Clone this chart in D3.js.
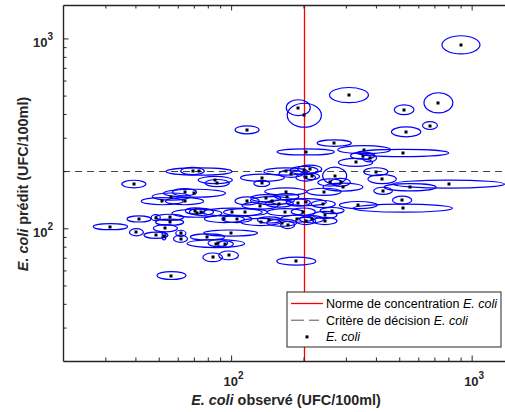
<!DOCTYPE html>
<html>
<head>
<meta charset="utf-8">
<script src="https://cdn.jsdelivr.net/npm/d3@7"></script>
<style>
  body { margin: 0; background: #fff; }
  svg { display: block; font-family: "Liberation Sans", Arial, sans-serif; }
</style>
</head>
<body>
<svg id="chart"></svg>
<script>
// E. coli observé vs prédit (UFC/100ml), ellipses = incertitude (demi-axes en log10)
var observed = [31.5, 39.4, 41.4, 40.4, 48.6, 48.7, 52.6, 53.3, 55.5, 55.5,
  61.8, 61.6, 56.5, 51.7, 56.4, 64.0, 70.4, 64.0, 69.1, 73.6,
  85.9, 87.5, 116.5, 70.9, 72.1, 75.3, 93.8, 101.2, 114.7, 79.7,
  99.5, 86.4, 88.1, 94.7, 83.8, 97.6, 116.5, 105.6, 132.8, 144.2,
  162.3, 171.9, 187.8, 204.2, 216.1, 134.9, 134.1, 168.6, 177.4, 200.9,
  204.2, 212.2, 216.1, 204.2, 168.6, 170.7, 139.3, 148.4, 158.6, 190.2,
  205.3, 131.9, 168, 199.5, 186.6, 190.2, 201.5, 309, 903, 524,
  727.5, 671, 534, 268.3, 357.5, 517.2, 352, 376.3, 329, 399.7,
  269.4, 424.5, 802.8, 554.6, 428.5, 514, 285, 257.5, 291.7, 243.2,
  338, 517, 241.5, 263, 245.5, 245.5];
var predicted = [102, 171, 112, 95.3, 113.8, 91.9, 91.2, 100, 107.7, 114.3,
  94.1, 88.1, 56.4, 139, 146.9, 155, 153, 139, 200.3, 199.3,
  179.5, 173, 330, 123.5, 120, 122, 112, 121.6, 121.6, 90,
  94.4, 83.1, 83.6, 82.6, 70.3, 72, 139.4, 112, 108, 110.6,
  107, 104.1, 112.4, 109.3, 111.6, 184.6, 172.2, 199.3, 193.8, 201.7,
  185.2, 205.2, 187.5, 252.5, 156.2, 146.9, 144.1, 140, 134.9, 136.6,
  137.3, 131.7, 121.6, 122.4, 67.1, 431.5, 394, 503, 925, 421,
  458, 347.8, 322, 281, 259.5, 249.4, 241.3, 234.6, 222.3, 198.6,
  189.1, 181.6, 171, 164.4, 157.5, 140.6, 174.7, 174.3, 164.8, 155.6,
  132.5, 127.6, 134.1, 124, 117.5, 109.3];
var errObs = [.071, .050, .050, .029, .019, .050, .008, .050, .058, .058,
  .021, .029, .060, .087, .079, .050, .129, .079, .049, .137,
  .071, .050, .050, .041, .104, .050, .083, .124, .091, .071,
  .112, .120, .041, .033, .041, .041, .050, .062, .083, .050,
  .062, .029, .066, .041, .050, .091, .033, .091, .050, .058,
  .041, .050, .033, .119, .087, .050, .062, .091, .058, .050,
  .083, .075, .075, .050, .081, .050, .071, .081, .079, .041,
  .060, .031, .061, .071, .110, .191, .050, .029, .071, .050,
  .050, .059, .232, .108, .039, .040, .041, .050, .083, .071,
  .079, .207, .050, .050, .050, .050];
var errPred = [.016, .020, .016, .019, .016, .016, .021, .019, .016, .016,
  .016, .019, .021, .019, .019, .019, .021, .019, .019, .019,
  .019, .019, .021, .016, .021, .019, .019, .021, .019, .016,
  .016, .021, .019, .016, .023, .023, .021, .019, .019, .016,
  .019, .019, .019, .019, .019, .019, .016, .019, .019, .021,
  .019, .021, .016, .016, .019, .016, .019, .021, .019, .019,
  .019, .019, .019, .019, .021, .042, .063, .040, .048, .026,
  .053, .021, .026, .017, .021, .019, .019, .021, .021, .021,
  .045, .024, .021, .019, .019, .021, .021, .019, .021, .019,
  .019, .021, .019, .016, .019, .019];

var normeConcentration = 200;
var critereDecision = 200;
var majorTicks = [100, 1000];
var xTicks = [30, 40, 50, 60, 70, 80, 90, 100, 200, 300, 400, 500, 600, 700, 800, 900, 1000];
var yTicks = [30, 40, 50, 60, 70, 80, 90, 100, 200, 300, 400, 500, 600, 700, 800, 900, 1000];
var legendLabels = ["Norme de concentration ", "Critère de décision ", ""];

var width = 505, height = 412;
var margin = ({top: 5, right: -9, bottom: 51, left: 63});

var svg = d3.select("#chart")
  .attr("width", width)
  .attr("height", height);

var x = d3.scaleLog()
  .domain([20, 1500])
  .range([margin.left, width - margin.right]);

var y = d3.scaleLog()
  .domain([20, 1500])
  .range([height - margin.bottom, margin.top]);

var data = observed.map(function(d, i) {
  return {obs: d, pred: predicted[i], ex: errObs[i], ey: errPred[i]};
});

// reference lines
var xNorm = Math.round(x(normeConcentration)) + 0.5;
svg.append("line")
  .attr("x1", xNorm).attr("x2", xNorm)
  .attr("y1", y(1500)).attr("y2", y(20))
  .attr("stroke", "#ff0000").attr("stroke-width", 1.3);

var yCrit = Math.round(y(critereDecision)) + 0.5;
svg.append("line")
  .attr("x1", x(20)).attr("x2", x(1500))
  .attr("y1", yCrit).attr("y2", yCrit)
  .attr("stroke", "#444").attr("stroke-width", 1)
  .attr("stroke-dasharray", "7,5");

// ellipses
svg.append("g")
  .selectAll("ellipse")
  .data(data)
  .join("ellipse")
    .attr("cx", d => x(d.obs))
    .attr("cy", d => y(d.pred))
    .attr("rx", d => x(d.obs * Math.pow(10, d.ex)) - x(d.obs))
    .attr("ry", d => y(d.pred) - y(d.pred * Math.pow(10, d.ey)))
    .attr("fill", "none")
    .attr("stroke", "#0000ff")
    .attr("stroke-width", 1.2);

// points
svg.append("g")
  .selectAll("rect")
  .data(data)
  .join("rect")
    .attr("x", d => Math.round(x(d.obs)) - 1.5)
    .attr("y", d => Math.round(y(d.pred)) - 1.5)
    .attr("width", 3)
    .attr("height", 3)
    .attr("fill", "#000");

// axes
function supLabel(sel, tx, ty) {
  sel.selectAll(".tick text").each(function(d) {
    var t = d3.select(this);
    if (majorTicks.indexOf(d) < 0) { t.remove(); return; }
    t.text("10")
      .attr("x", tx).attr("y", ty).attr("dy", null)
      .attr("fill", "#262626")
      .style("font-size", "13px")
      .style("font-weight", "bold");
    t.append("tspan")
      .attr("dy", -7.5)
      .style("font-size", "10px")
      .text(Math.round(Math.log10(d)));
  });
}

function styleAxis(g, major, minor) {
  g.select(".domain").attr("stroke", "#262626").attr("stroke-width", 1.4);
  g.selectAll(".tick line").attr("stroke", "#262626");
  g.selectAll(".tick line").each(function(d) {
    var l = d3.select(this);
    var len = majorTicks.indexOf(d) >= 0 ? major : minor;
    if (l.attr("y2") != null && l.attr("y2") != 0) l.attr("y2", len);
    if (l.attr("x2") != null && l.attr("x2") != 0) l.attr("x2", len);
  });
}

var xAxis = g => g
  .attr("transform", `translate(0,${height - margin.bottom})`)
  .call(d3.axisBottom(x).tickValues(xTicks).tickSize(-3.5).tickSizeOuter(0))
  .call(g => supLabel(g, 2, 25))
  .call(g => styleAxis(g, -5.5, -3.5));

var xTop = g => g
  .attr("transform", `translate(0,${margin.top})`)
  .call(d3.axisTop(x).tickValues(xTicks).tickSize(-3.5).tickSizeOuter(0).tickFormat(""))
  .call(g => styleAxis(g, 5.5, 3.5));

var yAxis = g => g
  .attr("transform", `translate(${margin.left},0)`)
  .call(d3.axisLeft(y).tickValues(yTicks).tickSize(-3.5).tickSizeOuter(0))
  .call(g => supLabel(g, -10, 8.4))
  .call(g => styleAxis(g, 5.5, 3.5));

var yRight = g => g
  .attr("transform", `translate(${width - margin.right},0)`)
  .call(d3.axisRight(y).tickValues(yTicks).tickSize(-3.5).tickSizeOuter(0).tickFormat(""))
  .call(g => styleAxis(g, -5.5, -3.5));

svg.append("g").call(xAxis);
svg.append("g").call(xTop);
svg.append("g").call(yAxis);
svg.append("g").call(yRight);

// axis titles
var xLabel = svg.append("text")
  .attr("x", 286)
  .attr("y", 405)
  .attr("text-anchor", "middle")
  .attr("fill", "#262626")
  .style("font-size", "14.4px")
  .style("font-weight", "bold");
xLabel.append("tspan").style("font-style", "italic").text("E. coli");
xLabel.append("tspan").text(" observé (UFC/100ml)");

var yLabel = svg.append("text")
  .attr("transform", "translate(28,184) rotate(-90)")
  .attr("text-anchor", "middle")
  .attr("fill", "#262626")
  .style("font-size", "14.4px")
  .style("font-weight", "bold");
yLabel.append("tspan").style("font-style", "italic").text("E. coli");
yLabel.append("tspan").text(" prédit (UFC/100ml)");

// legend
var legend = svg.append("g")
  .attr("transform", "translate(287,292)");

legend.append("rect")
  .attr("width", 214)
  .attr("height", 55)
  .attr("fill", "#fff")
  .attr("stroke", "#262626")
  .attr("stroke-width", 1);

var rowH = 16.7;
legendLabels.forEach(function(lab, i) {
  var cy = 11.5 + i * rowH;
  if (i == 0) {
    legend.append("line")
      .attr("x1", 4).attr("x2", 36).attr("y1", cy).attr("y2", cy)
      .attr("stroke", "#ff0000").attr("stroke-width", 1.3);
  } else if (i == 1) {
    legend.append("line")
      .attr("x1", 4).attr("x2", 32).attr("y1", cy).attr("y2", cy)
      .attr("stroke", "#555").attr("stroke-width", 1)
      .attr("stroke-dasharray", "13,5");
  } else {
    legend.append("rect")
      .attr("x", 18.5).attr("y", cy - 1.5)
      .attr("width", 3).attr("height", 3)
      .attr("fill", "#000");
  }
  var t = legend.append("text")
    .attr("x", 39)
    .attr("y", cy + 4.4)
    .attr("fill", "#000")
    .style("font-size", "12.5px");
  t.append("tspan").text(lab);
  t.append("tspan").style("font-style", "italic").text("E. coli");
});
</script>
</body>
</html>
